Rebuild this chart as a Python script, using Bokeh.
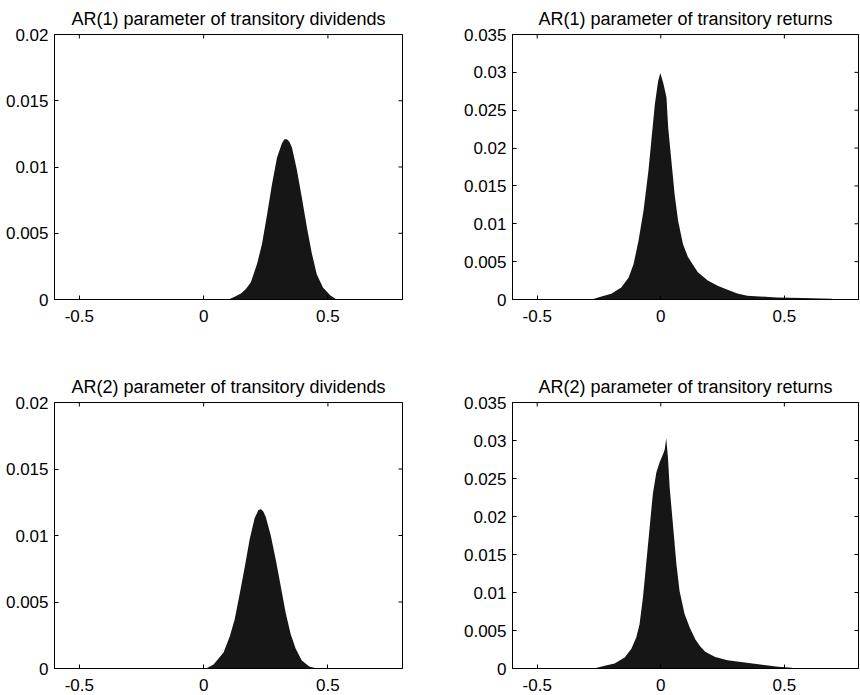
import math
from bokeh.plotting import figure
from bokeh.models import FixedTicker
from bokeh.layouts import column, row
from bokeh.embed import file_html
from bokeh.resources import INLINE

# ---------------- data ----------------
titles = [
    "AR(1) parameter of transitory dividends",
    "AR(1) parameter of transitory returns",
    "AR(2) parameter of transitory dividends",
    "AR(2) parameter of transitory returns",
]

x_min, x_max = -0.6, 0.8
x_ticks = [-0.5, 0, 0.5]
x_tick_labels = ["-0.5", "0", "0.5"]

y_ticks_div = [0, 0.005, 0.01, 0.015, 0.02]
y_tick_labels_div = ["0", "0.005", "0.01", "0.015", "0.02"]

y_ticks_ret = [0, 0.005, 0.01, 0.015, 0.02, 0.025, 0.03, 0.035]
y_tick_labels_ret = ["0", "0.005", "0.01", "0.015", "0.02", "0.025", "0.03", "0.035"]

# AR(1) transitory dividends
ar1_div_x = [0.10, 0.125, 0.15, 0.17, 0.19, 0.215, 0.235, 0.255, 0.275, 0.295, 0.315,
             0.325, 0.335, 0.345, 0.355, 0.375, 0.395, 0.415, 0.435, 0.455, 0.48, 0.51, 0.535]
ar1_div_y = [0, 0.0002, 0.00045, 0.0008, 0.0013, 0.0027, 0.0042, 0.0064, 0.0087, 0.0107, 0.0118,
             0.0121, 0.0121, 0.0119, 0.0115, 0.0098, 0.0077, 0.0055, 0.0035, 0.0019, 0.0009, 0.0003, 0]

# AR(1) transitory returns
ar1_ret_x = [-0.28, -0.24, -0.20, -0.16, -0.13, -0.11, -0.09, -0.07, -0.05, -0.037, -0.024,
             -0.011, -0.002, 0.01, 0.023, 0.03, 0.043, 0.056, 0.07, 0.09, 0.11, 0.13, 0.15,
             0.19, 0.23, 0.27, 0.31, 0.35, 0.40, 0.47, 0.57, 0.69, 0.70]
ar1_ret_y = [0, 0.0004, 0.00075, 0.0016, 0.0029, 0.0047, 0.0078, 0.0117, 0.0170, 0.0214, 0.0258,
             0.0288, 0.0299, 0.0286, 0.0267, 0.0227, 0.0183, 0.0139, 0.0104, 0.0073, 0.0056, 0.0046, 0.0036,
             0.0025, 0.0018, 0.0013, 0.0008, 0.0005, 0.0004, 0.00026, 0.0002, 0.0001, 0]

# AR(2) transitory dividends
ar2_div_x = [0.01, 0.04, 0.08, 0.105, 0.125, 0.145, 0.165, 0.185, 0.205, 0.22, 0.23,
             0.24, 0.25, 0.27, 0.29, 0.31, 0.33, 0.35, 0.37, 0.395, 0.425, 0.455]
ar2_div_y = [0, 0.0003, 0.0012, 0.0024, 0.0037, 0.0056, 0.0076, 0.0097, 0.0113, 0.0119, 0.0120,
             0.0118, 0.0114, 0.0100, 0.0082, 0.0062, 0.0042, 0.0026, 0.0015, 0.0006, 0.00015, 0]

# AR(2) transitory returns
ar2_ret_x = [-0.27, -0.227, -0.187, -0.146, -0.119, -0.099, -0.086, -0.072, -0.059, -0.045, -0.032,
             -0.018, -0.005, 0.009, 0.016, 0.022, 0.029, 0.036, 0.049, 0.063, 0.076, 0.096,
             0.117, 0.14, 0.16, 0.18, 0.22, 0.27, 0.34, 0.41, 0.475, 0.53, 0.545]
ar2_ret_y = [0, 0.00036, 0.00066, 0.00145, 0.0026, 0.0041, 0.0058, 0.0094, 0.0138, 0.0186, 0.0230,
             0.0258, 0.0271, 0.0282, 0.0288, 0.0303, 0.0278, 0.0238, 0.0190, 0.0138, 0.0102, 0.0072,
             0.0054, 0.0038, 0.0029, 0.0022, 0.0015, 0.0011, 0.0008, 0.0005, 0.00023, 0.0001, 0]

FONT = "Liberation Sans"
FILL = "#161616"


def style_axis(ax, ticks, labels):
    ax.ticker = FixedTicker(ticks=ticks, minor_ticks=[])
    ax.major_label_overrides = {t: l for t, l in zip(ticks, labels)}
    ax.major_tick_in = 4
    ax.major_tick_out = 0
    ax.minor_tick_line_color = None
    ax.axis_line_color = "black"
    ax.major_tick_line_color = "black"
    ax.major_label_text_color = "black"
    ax.major_label_text_font = FONT
    ax.major_label_text_font_size = "17px"


def make(title, xs, ys, yticks, ylabels, ymax, w, h, bl, br, bt, bb):
    p = figure(width=w, height=h, output_backend="svg", toolbar_location=None,
               x_range=(x_min, x_max), y_range=(0, ymax),
               min_border_left=bl, min_border_right=br, min_border_top=bt, min_border_bottom=bb,
               title=title)
    p.title.align = "center"
    p.title.text_font = FONT
    p.title.text_font_size = "18px"
    p.title.text_font_style = "normal"
    p.title.text_color = "black"
    p.title.standoff = 12
    p.grid.visible = False
    p.outline_line_color = "black"
    p.background_fill_color = "white"
    p.border_fill_color = "white"

    style_axis(p.xaxis[0], x_ticks, x_tick_labels)
    p.xaxis[0].major_label_standoff = 10
    style_axis(p.yaxis[0], yticks, ylabels)
    p.yaxis[0].major_label_standoff = 6

    p.varea(x=xs, y1=0, y2=ys, fill_color=FILL)

    # mirrored inward ticks on the top and right edges (half of each dash is clipped by the frame)
    p.scatter(x=x_ticks, y=[ymax] * len(x_ticks), marker="dash", size=8,
              angle=math.pi / 2, line_color="black", line_width=1)
    p.scatter(x=[x_max] * len(yticks), y=yticks, marker="dash", size=8,
              line_color="black", line_width=1)
    return p


p1 = make(titles[0], ar1_div_x, ar1_div_y, y_ticks_div, y_tick_labels_div, 0.02,
          430, 350, 54, 28, 33, 51)
p2 = make(titles[1], ar1_ret_x, ar1_ret_y, y_ticks_ret, y_tick_labels_ret, 0.035,
          430, 350, 82, 2, 33, 51)
p3 = make(titles[2], ar2_div_x, ar2_div_y, y_ticks_div, y_tick_labels_div, 0.02,
          430, 345, 54, 28, 52, 27)
p4 = make(titles[3], ar2_ret_x, ar2_ret_y, y_ticks_ret, y_tick_labels_ret, 0.035,
          430, 345, 82, 2, 52, 27)

layout = column(row(p1, p2), row(p3, p4))

open("out.html", "w").write(file_html(layout, INLINE))
